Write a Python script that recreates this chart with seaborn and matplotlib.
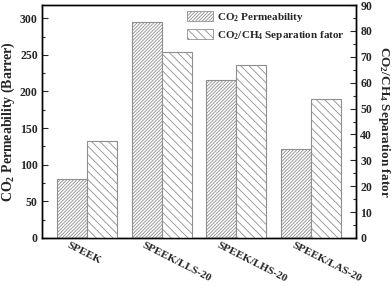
import matplotlib
matplotlib.use("Agg")
import matplotlib.pyplot as plt
import matplotlib.transforms as mtransforms
from matplotlib.patches import Patch
from matplotlib.ticker import MultipleLocator
import seaborn as sns
import pandas as pd

categories = ["SPEEK", "SPEEK/LLS-20", "SPEEK/LHS-20", "SPEEK/LAS-20"]
permeability = [81, 295, 215, 121]
separation = [37.6, 71.7, 66.8, 53.7]
series_names = ["CO$_2$ Permeability", "CO$_2$/CH$_4$ Separation fator"]

sns.set_style("ticks")
plt.rcParams["font.family"] = ["Liberation Serif", "DejaVu Serif"]
plt.rcParams["font.weight"] = "bold"
plt.rcParams["mathtext.fontset"] = "custom"
plt.rcParams["mathtext.rm"] = "Liberation Serif:bold"
plt.rcParams["mathtext.default"] = "rm"
plt.rcParams["hatch.linewidth"] = 0.6
plt.rcParams["hatch.color"] = "#8f8f8f"

df_perm = pd.DataFrame({"cat": categories, "val": permeability, "series": series_names[0]})
df_sep = pd.DataFrame({"cat": categories, "val": separation, "series": series_names[1]})

fig = plt.figure(figsize=(3.92, 2.86), dpi=100)
ax1 = fig.add_axes([42/392, 1-238/286, (356-42)/392, (238-5)/286])
ax2 = ax1.twinx()

edge = "#8f8f8f"
perm_hatch = "//////////"
sep_hatch = "\\\\\\\\"
sns.barplot(data=df_perm, x="cat", y="val", hue="series", hue_order=series_names,
            order=categories, dodge=True, width=0.8, ax=ax1,
            palette=["white", "white"], edgecolor=edge, linewidth=0.8, legend=False)
sns.barplot(data=df_sep, x="cat", y="val", hue="series", hue_order=series_names,
            order=categories, dodge=True, width=0.8, ax=ax2,
            palette=["white", "white"], edgecolor=edge, linewidth=0.8, legend=False)

for p in ax1.patches:
    p.set_hatch(perm_hatch)
for p in ax2.patches:
    p.set_hatch(sep_hatch)

ax1.set_xlim(-0.6, 3.6)
ax1.set_ylim(0, 318)
ax2.set_ylim(0, 90)

ax1.yaxis.set_major_locator(MultipleLocator(50))
ax1.yaxis.set_minor_locator(MultipleLocator(25))
ax2.yaxis.set_major_locator(MultipleLocator(10))
ax2.yaxis.set_minor_locator(MultipleLocator(5))

for ax in (ax1, ax2):
    for s in ax.spines.values():
        s.set_visible(True)
        s.set_linewidth(1.0)
        s.set_color("black")
    ax.tick_params(axis="y", which="major", direction="in", length=4, width=0.8,
                   labelsize=8.5, pad=3)
    ax.tick_params(axis="y", which="minor", direction="in", length=2, width=0.8)
    ax.set_xlabel("")

ax1.tick_params(axis="x", which="both", length=0, labelsize=8, pad=2)
ax1.set_xticks(range(len(categories)))
ax1.set_xticklabels(categories, rotation=-27, ha="left", rotation_mode="anchor",
                    fontweight="bold")
offset = mtransforms.ScaledTranslation(-17/100, 0, fig.dpi_scale_trans)
for lbl in ax1.get_xticklabels():
    lbl.set_transform(lbl.get_transform() + offset)

ax1.set_ylabel("CO$_2$ Permeability (Barrer)", fontsize=10, fontweight="bold", labelpad=2)
ax2.set_ylabel("CO$_2$/CH$_4$ Separation fator", fontsize=9.5, fontweight="bold",
               rotation=-90, va="bottom", labelpad=3)
for lbl in ax1.get_yticklabels() + ax2.get_yticklabels():
    lbl.set_fontweight("bold")

handles = [Patch(facecolor="white", edgecolor=edge, hatch=perm_hatch, linewidth=0.6),
           Patch(facecolor="white", edgecolor=edge, hatch=sep_hatch, linewidth=0.6)]
leg = ax2.legend(handles, series_names, loc="upper left", bbox_to_anchor=(0.44, 1.005),
                 frameon=False, fontsize=8, handlelength=2.4, handleheight=1.0,
                 handletextpad=0.3, labelspacing=0.45, borderaxespad=0.2)
for t in leg.get_texts():
    t.set_fontweight("bold")

fig.savefig("out.png", dpi=100)
